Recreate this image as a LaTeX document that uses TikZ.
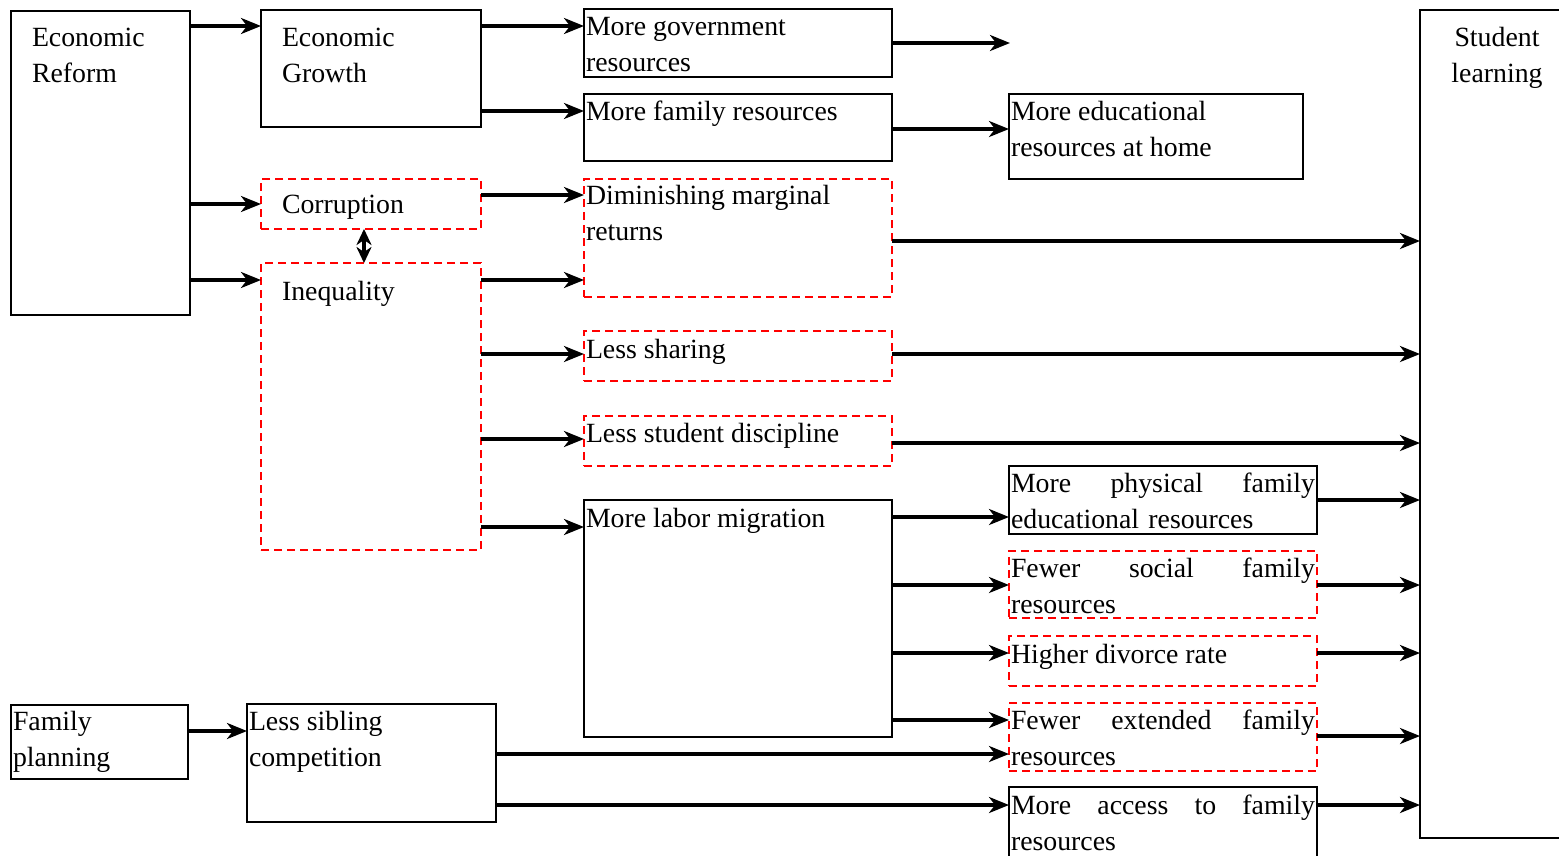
\documentclass[tikz,border=0pt]{standalone}
\usepackage{fontspec}
\setmainfont{Liberation Serif}
\usetikzlibrary{arrows.meta}
\newcommand\fsz{\fontsize{27.8}{36}\selectfont}
\newcommand\st{\rule{0pt}{19pt}}
\tikzset{
  box/.style={draw, line width=2.6pt, anchor=north west, inner sep=0pt, outer sep=0pt},
  rbox/.style={box, draw=red, dash pattern=on 8pt off 5pt, line width=2.5pt},
  txt/.style={anchor=north west, inner sep=0pt, outer sep=0pt, font=\fsz, align=left},
  jtxt/.style={txt, text width=304pt},
  arr/.style={-{Stealth[length=20pt,width=16pt,inset=6pt]}, line width=3.2pt},
  darr/.style={{Stealth[length=16pt,width=15pt,inset=5pt]}-{Stealth[length=16pt,width=15pt,inset=5pt]}, line width=3.2pt}
}
\begin{document}
\begin{tikzpicture}[x=1pt,y=-1pt]
\useasboundingbox (0,0) rectangle (1559,855);
% boxes
\node[box, minimum width=179pt, minimum height=304pt] (er) at (11,11) {};
\node[box, minimum width=220pt, minimum height=117pt] (eg) at (261,10) {};
\node[box, minimum width=308pt, minimum height=68pt] (mgr) at (584,9) {};
\node[box, minimum width=308pt, minimum height=67pt] (mfr) at (584,94) {};
\node[box, minimum width=294pt, minimum height=85pt] (merh) at (1009,94) {};
\node[rbox, minimum width=220pt, minimum height=50pt] (cor) at (261,179) {};
\node[rbox, minimum width=220pt, minimum height=287pt] (ineq) at (261,263) {};
\node[rbox, minimum width=308pt, minimum height=118pt] (dmr) at (584,179) {};
\node[rbox, minimum width=308pt, minimum height=50pt] (ls) at (584,331) {};
\node[rbox, minimum width=308pt, minimum height=50pt] (lsd) at (584,416) {};
\node[box, minimum width=308pt, minimum height=237pt] (lm) at (584,500) {};
\node[box, minimum width=308pt, minimum height=68pt] (mpf) at (1009,466) {};
\node[rbox, minimum width=308pt, minimum height=67pt] (fsf) at (1009,551) {};
\node[rbox, minimum width=308pt, minimum height=50pt] (hdr) at (1009,636) {};
\node[rbox, minimum width=308pt, minimum height=68pt] (fef) at (1009,703) {};
\node[box, minimum width=308pt, minimum height=110pt] (maf) at (1009,787) {};
\node[box, minimum width=177pt, minimum height=74pt] (fp) at (11,705) {};
\node[box, minimum width=249pt, minimum height=118pt] (lsc) at (247,704) {};
\node[box, minimum width=170pt, minimum height=828pt] (sl) at (1420,10) {};
% texts
\node[txt] (er-t) at (32,27) {\st Economic\\Reform};
\node[txt] (eg-t) at (282,27) {\st Economic\\Growth};
\node[txt] (mgr-t) at (586,16) {\st More government\\resources};
\node[txt] (mfr-t) at (586,101) {\st More family resources};
\node[txt] (merh-t) at (1011,101) {\st More educational\\resources at home};
\node[txt] (cor-t) at (282,194) {\st Corruption};
\node[txt] (ineq-t) at (282,281) {\st Inequality};
\node[txt] (dmr-t) at (586,185) {\st Diminishing marginal\\returns};
\node[txt] (ls-t) at (586,339) {\st Less sharing};
\node[txt] (lsd-t) at (586,423) {\st Less student discipline};
\node[txt] (lm-t) at (586,508) {\st More labor migration};
\node[jtxt] (mpf-t) at (1011,473) {\st More\hfill physical\hfill family\\educational resources};
\node[jtxt] (fsf-t) at (1011,558) {\st Fewer\hfill social\hfill family\\resources};
\node[txt] (hdr-t) at (1011,644) {\st Higher divorce rate};
\node[jtxt] (fef-t) at (1011,710) {\st Fewer\hfill extended\hfill family\\resources};
\node[jtxt] (maf-t) at (1011,795) {\st More\hfill access\hfill to\hfill family\\resources};
\node[txt] (fp-t) at (13,711) {\st Family\\planning};
\node[txt] (lsc-t) at (249,711) {\st Less sibling\\competition};
\node[txt, anchor=north, align=center] (sl-t) at (1497,27) {\st Student\\learning};
% connectors
\coordinate (free) at (1010,43);
\draw[arr] (er.east |- 0,26) -- (eg.west |- 0,26);
\draw[arr] (er.east |- 0,204) -- (cor.west |- 0,204);
\draw[arr] (er.east |- 0,280) -- (ineq.west |- 0,280);
\draw[arr] (eg.east |- 0,26) -- (mgr.west |- 0,26);
\draw[arr] (eg.east |- 0,111) -- (mfr.west |- 0,111);
\draw[arr] (mgr.east |- free) -- (free);
\draw[arr] (mfr.east |- 0,129) -- (merh.west |- 0,129);
\draw[arr] (cor.east |- 0,195) -- (dmr.west |- 0,195);
\draw[darr] ([xshift=-7pt]cor.south) -- ([xshift=-7pt]ineq.north);
\draw[arr] (ineq.east |- 0,280) -- (dmr.west |- 0,280);
\draw[arr] (ineq.east |- 0,354) -- (ls.west |- 0,354);
\draw[arr] (ineq.east |- 0,439) -- (lsd.west |- 0,439);
\draw[arr] (ineq.east |- 0,527) -- (lm.west |- 0,527);
\draw[arr] (dmr.east |- 0,241) -- (sl.west |- 0,241);
\draw[arr] (ls.east |- 0,354) -- (sl.west |- 0,354);
\draw[arr] (lsd.east |- 0,443) -- (sl.west |- 0,443);
\draw[arr] (lm.east |- 0,517) -- (mpf.west |- 0,517);
\draw[arr] (lm.east |- 0,585) -- (fsf.west |- 0,585);
\draw[arr] (lm.east |- 0,653) -- (hdr.west |- 0,653);
\draw[arr] (lm.east |- 0,720) -- (fef.west |- 0,720);
\draw[arr] (mpf.east |- 0,500) -- (sl.west |- 0,500);
\draw[arr] (fsf.east |- 0,585) -- (sl.west |- 0,585);
\draw[arr] (hdr.east |- 0,653) -- (sl.west |- 0,653);
\draw[arr] (fef.east |- 0,736) -- (sl.west |- 0,736);
\draw[arr] (maf.east |- 0,805) -- (sl.west |- 0,805);
\draw[arr] (fp.east |- 0,731) -- (lsc.west |- 0,731);
\draw[arr] (lsc.east |- 0,754) -- (fef.west |- 0,754);
\draw[arr] (lsc.east |- 0,805) -- (maf.west |- 0,805);
\end{tikzpicture}
\end{document}
